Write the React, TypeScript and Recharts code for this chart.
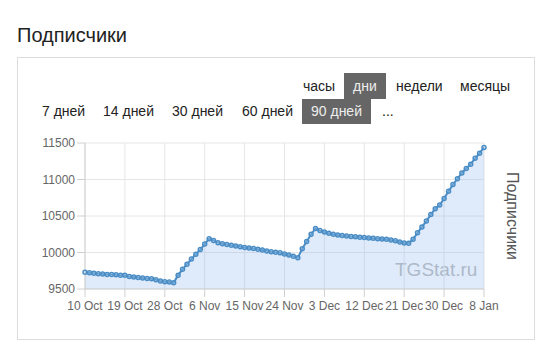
import { AreaChart, Area, XAxis, YAxis, CartesianGrid } from "recharts";

// daily subscriber counts, 10 Oct .. 8 Jan (91 days)
const subscribers = [
  9730, 9722, 9716, 9710, 9705, 9700, 9698, 9694, 9690, 9688,
  9672, 9665, 9658, 9650, 9645, 9640, 9628, 9610, 9600, 9596,
  9585, 9690, 9770, 9840, 9910, 9975, 10040, 10115, 10190, 10165,
  10135, 10120, 10110, 10100, 10090, 10078, 10070, 10062, 10055, 10045,
  10035, 10022, 10010, 10005, 9995, 9980, 9965, 9950, 9928, 10050,
  10150, 10250, 10330, 10300, 10280, 10265, 10250, 10240, 10232, 10225,
  10220, 10215, 10210, 10205, 10200, 10195, 10190, 10185, 10180, 10172,
  10160, 10145, 10130, 10128, 10180, 10270, 10350, 10430, 10520, 10600,
  10650, 10740, 10840, 10930, 11010, 11090, 11150, 11210, 11290, 11360,
  11440,
];

const tickDays = [0, 9, 18, 27, 36, 45, 54, 63, 72, 81, 90];
const tickLabels = [
  "10 Oct", "19 Oct", "28 Oct", "6 Nov", "15 Nov", "24 Nov",
  "3 Dec", "12 Dec", "21 Dec", "30 Dec", "8 Jan",
];
const yTicks = [9500, 10000, 10500, 11000, 11500];

const topButtons = ["часы", "дни", "недели", "месяцы"];
const rangeButtons = ["7 дней", "14 дней", "30 дней", "60 дней", "90 дней", "..."];

const data = subscribers.map((v, i) => ({ day: i, subscribers: v }));

const FONT = '"Liberation Sans", Arial, Helvetica, sans-serif';
const LINE = "#4a8dc6";

const btn = (label: string, left: number, top: number, h: number, active: boolean) => (
  <div
    key={label}
    style={{
      position: "absolute",
      left,
      top,
      height: h,
      lineHeight: h + "px",
      padding: "0 9px",
      fontSize: 14,
      background: active ? "#666" : "transparent",
      color: active ? "#eee" : "#222",
      whiteSpace: "nowrap",
    }}
  >
    {label}
  </div>
);

const topLeft = [294, 344, 387, 451];
const rangeLeft = [33, 94, 163, 233, 302, 373];

export default function App() {
  return (
    <div
      style={{
        position: "absolute",
        left: 0,
        top: 0,
        width: 553,
        height: 354,
        background: "#fff",
        overflow: "hidden",
        fontFamily: FONT,
      }}
    >
      <div
        style={{
          position: "absolute",
          left: 17,
          top: 23,
          fontSize: 20,
          lineHeight: "24px",
          color: "#222",
        }}
      >
        Подписчики
      </div>
      <div
        style={{
          position: "absolute",
          left: 17,
          top: 57,
          width: 516,
          height: 281,
          border: "1px solid #ddd",
        }}
      />
      {topButtons.map((b, i) => btn(b, topLeft[i], 73, 26, b === "дни"))}
      {rangeButtons.map((b, i) => btn(b, rangeLeft[i], 99, 25, b === "90 дней"))}
      <div
        style={{
          position: "absolute",
          left: 395,
          top: 260,
          fontSize: 19,
          lineHeight: "19px",
          fontWeight: 300,
          color: "#bdbdbd",
        }}
      >
        TGStat.ru
      </div>
      <div style={{ position: "absolute", left: 0, top: 0 }}>
        <AreaChart
          width={553}
          height={354}
          data={data}
          margin={{ top: 143, left: 25, right: 12, bottom: 35 }}
        >
          <CartesianGrid stroke="#e6e6e6" yAxisId="left" />
          <XAxis
            dataKey="day"
            type="number"
            domain={[0, 90]}
            ticks={tickDays}
            interval={0}
            tickFormatter={(d: number) => tickLabels[tickDays.indexOf(d)]}
            height={30}
            tickSize={8}
            tickMargin={4}
            tick={{ fill: "#666", fontSize: 12, fontFamily: FONT }}
            stroke="#d0d0d0"
          />
          <YAxis
            yAxisId="left"
            domain={[9500, 11500]}
            ticks={yTicks}
            width={60}
            tickSize={8}
            tickMargin={2}
            tick={{ fill: "#666", fontSize: 12, fontFamily: FONT }}
            stroke="#d0d0d0"
          />
          <YAxis
            yAxisId="right"
            orientation="right"
            width={57}
            tick={false}
            tickLine={false}
            axisLine={false}
            label={{
              value: "Подписчики",
              angle: 90,
              position: "center",
              fill: "#555",
              fontSize: 16,
              fontFamily: FONT,
            }}
          />
          <Area
            yAxisId="left"
            type="linear"
            dataKey="subscribers"
            stroke={LINE}
            strokeWidth={2}
            fill="#7fb0ea"
            fillOpacity={0.25}
            dot={{ r: 2, stroke: LINE, strokeWidth: 1.5, fill: "#cfe2f3" }}
            activeDot={false}
            isAnimationActive={false}
          />
        </AreaChart>
      </div>
    </div>
  );
}
